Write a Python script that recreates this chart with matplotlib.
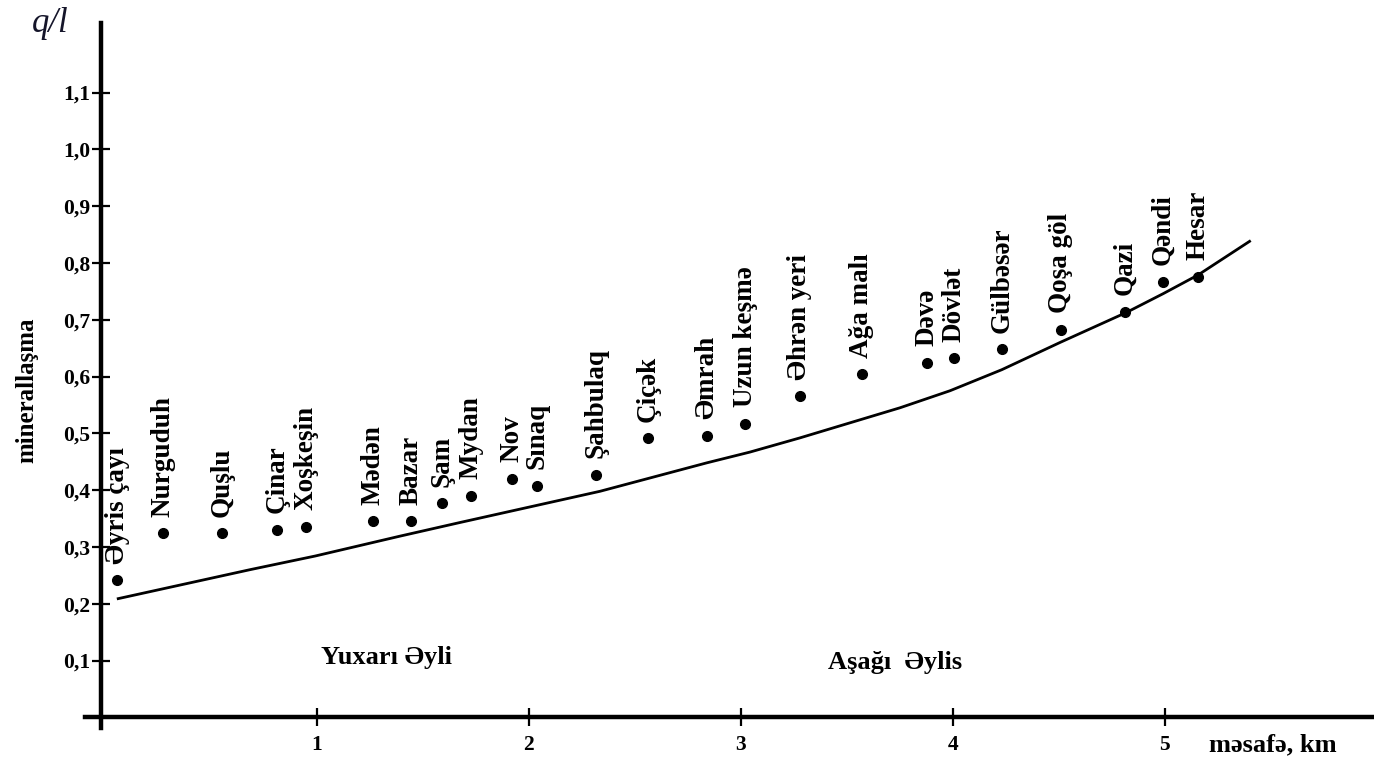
import matplotlib
matplotlib.use('Agg')
import matplotlib.pyplot as plt
import numpy as np

plt.rcParams['font.family'] = ['Liberation Serif', 'DejaVu Serif']
plt.rcParams['font.weight'] = 'bold'

# sampling points along the river (distance km, mineralisation g/l)
names = ['Əyris çayı', 'Nurguduh', 'Quşlu', 'Çinar', 'Xoşkeşin', 'Mədən', 'Bazar',
         'Şam', 'Mydan', 'Nov', 'Sınaq', 'Şahbulaq', 'Çiçək', 'Əmrah', 'Uzun keşmə',
         'Əhrən yeri', 'Ağa malı', 'Dəvə', 'Dövlət', 'Gülbəsər', 'Qoşa göl', 'Qazi',
         'Qəndi', 'Hesar']
dist = [0.059, 0.276, 0.551, 0.814, 0.949, 1.267, 1.443, 1.589, 1.726, 1.919,
        2.037, 2.317, 2.564, 2.839, 3.020, 3.279, 3.570, 3.877, 4.007, 4.231,
        4.509, 4.814, 4.993, 5.158]
miner = [0.241, 0.324, 0.324, 0.330, 0.335, 0.345, 0.345, 0.377, 0.390, 0.420,
         0.408, 0.427, 0.491, 0.496, 0.517, 0.565, 0.604, 0.624, 0.632, 0.648,
         0.682, 0.714, 0.767, 0.775]

# trend curve
curve_x = [0.063, 0.685, 0.992, 1.392, 1.675, 2.336, 2.839, 3.043, 3.279, 3.751,
           3.987, 4.231, 4.506, 4.820, 4.993, 5.158, 5.40]
curve_y = [0.209, 0.260, 0.284, 0.319, 0.343, 0.398, 0.448, 0.467, 0.492, 0.545,
           0.575, 0.612, 0.660, 0.713, 0.746, 0.779, 0.838]

yticks = [0.1, 0.2, 0.3, 0.4, 0.5, 0.6, 0.7, 0.8, 0.9, 1.0, 1.1]
ytick_labels = ['0,1', '0,2', '0,3', '0,4', '0,5', '0,6', '0,7', '0,8', '0,9', '1,0', '1,1']
xticks = [1, 2, 3, 4, 5]

fig = plt.figure(figsize=(13.74, 7.59), dpi=100)
ax = fig.add_axes([0.0619, 0.0408, 0.9381, 0.9289])

ax.plot(curve_x, curve_y, color='black', lw=2)
ax.plot(dist, miner, 'o', color='black', markersize=7)

for n, x, y in zip(names, dist, miner):
    ax.annotate(n, (x, y), xytext=(0, 12), textcoords='offset points',
                rotation=90, ha='center', va='bottom', fontsize=19.5,
                fontweight='bold')

ax.set_xlim(-0.0934, 5.987)
ax.set_ylim(-0.0188, 1.2224)

for s in ['top', 'right']:
    ax.spines[s].set_visible(False)
ax.spines['left'].set_position(('data', -0.018))
ax.spines['bottom'].set_position(('data', 0))
ax.spines['left'].set_linewidth(3.2)
ax.spines['bottom'].set_linewidth(3.2)

ax.set_yticks(yticks)
ax.set_yticklabels(ytick_labels)
ax.set_xticks(xticks)
ax.tick_params(axis='y', direction='inout', length=13, width=1.6, pad=1, labelsize=15.5)
ax.tick_params(axis='x', direction='inout', length=13, width=1.6, pad=6, labelsize=15.5)

ax.text(-0.37, 0.575, 'minerallaşma', rotation=90, ha='center', va='center',
        fontsize=18, fontweight='bold')
ax.text(-0.26, 1.222, 'q/l', ha='center', va='center', fontsize=25,
        fontstyle='italic', fontweight='normal', color='#15152a')
ax.text(5.51, -0.049, 'məsafə, km', ha='center', va='center', fontsize=19, fontweight='bold',
        clip_on=False)
ax.text(1.33, 0.105, 'Yuxarı Əyli', ha='center', va='center', fontsize=19, fontweight='bold')
ax.text(3.73, 0.097, 'Aşağı  Əylis', ha='center', va='center', fontsize=19, fontweight='bold')

fig.savefig('out.png', dpi=100)
